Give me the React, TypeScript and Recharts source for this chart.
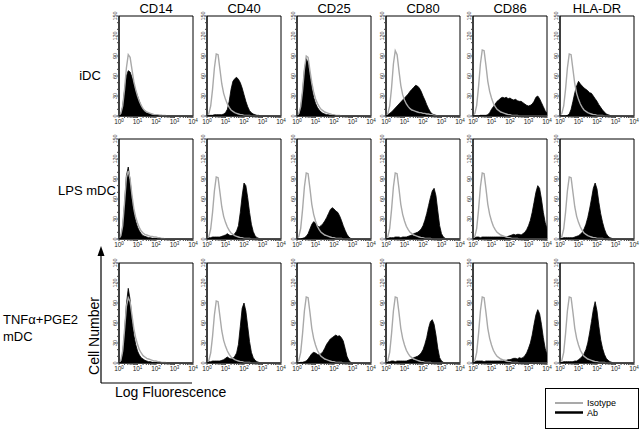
import React from 'react';
import { ComposedChart, Area, Line, XAxis, YAxis, ReferenceArea } from 'recharts';

// log10 fluorescence positions (10^0 .. 10^4)
const LOGS = [
  0, 0.1, 0.2, 0.3, 0.4, 0.5, 0.6, 0.7, 0.8, 0.9,
  1, 1.1, 1.2, 1.3, 1.4, 1.5, 1.6, 1.7, 1.8, 1.9,
  2, 2.1, 2.2, 2.3, 2.4, 2.5, 2.6, 2.7, 2.8, 2.9,
  3, 3.1, 3.2, 3.3, 3.4, 3.5, 3.6, 3.7, 3.8, 3.9,
  4,
];

const MARKERS = ['CD14', 'CD40', 'CD25', 'CD80', 'CD86', 'HLA-DR'];
const X_MAJOR = [0, 1, 2, 3, 4];
const Y_TICKS = [0, 10, 20, 30, 40, 50, 60, 70, 80, 90, 100, 110, 120, 130, 140, 150];

// Isotype (gray) histograms
const ISO_STD = [
  1, 4, 15, 40, 72, 93, 92, 70, 48, 34,
  25, 18, 13, 9, 7, 5, 4, 3, 2, 2,
  1, 1, 1, 1, 0, 0, 0, 0, 0, 0,
  0, 0, 0, 0, 0, 0, 0, 0, 0, 0,
  0,
];
const ISO_HIGH = [
  1, 4, 16, 44, 78, 99, 98, 76, 52, 37,
  27, 19, 14, 10, 8, 6, 5, 4, 3, 2,
  2, 1, 1, 1, 1, 0, 0, 0, 0, 0,
  0, 0, 0, 0, 0, 0, 0, 0, 0, 0,
  0,
];
const CD14_IDC_ISO = [
  1, 4, 15, 40, 72, 92, 88, 70, 52, 40,
  30, 22, 16, 11, 8, 6, 5, 4, 3, 2,
  2, 2, 1, 1, 1, 1, 0, 0, 0, 0,
  0, 0, 0, 0, 0, 0, 0, 0, 0, 0,
  0,
];
const CD25_IDC_ISO = [
  1, 4, 14, 38, 70, 90, 88, 68, 50, 36,
  26, 19, 14, 10, 8, 6, 5, 4, 3, 2,
  2, 1, 1, 1, 0, 0, 0, 0, 0, 0,
  0, 0, 0, 0, 0, 0, 0, 0, 0, 0,
  0,
];
const CD80_IDC_ISO = [
  1, 4, 15, 42, 78, 98, 92, 68, 46, 32,
  24, 18, 14, 11, 9, 8, 7, 6, 5, 5,
  4, 4, 3, 3, 2, 2, 1, 1, 0, 0,
  0, 0, 0, 0, 0, 0, 0, 0, 0, 0,
  0,
];
const CD14_LPS_ISO = [
  1, 5, 20, 55, 92, 102, 90, 66, 46, 33,
  24, 17, 12, 9, 7, 6, 5, 4, 4, 3,
  3, 2, 2, 1, 1, 0, 0, 0, 0, 0,
  0, 0, 0, 0, 0, 0, 0, 0, 0, 0,
  0,
];
const CD14_TNF_ISO = [
  1, 4, 18, 50, 85, 98, 92, 72, 52, 38,
  28, 20, 15, 11, 9, 7, 6, 5, 4, 3,
  3, 2, 2, 1, 1, 1, 0, 0, 0, 0,
  0, 0, 0, 0, 0, 0, 0, 0, 0, 0,
  0,
];

// Antibody (black) histograms — iDC
const CD14_IDC_AB = [
  0, 3, 14, 38, 60, 68, 66, 58, 48, 38,
  30, 22, 15, 10, 7, 5, 4, 3, 2, 2,
  1, 1, 1, 1, 0, 0, 0, 0, 0, 0,
  0, 0, 0, 0, 0, 0, 0, 0, 0, 0,
  0,
];
const CD40_IDC_AB = [
  1, 1, 1, 1, 2, 2, 2, 2, 2, 3,
  5, 10, 22, 40, 52, 56, 58, 55, 50, 42,
  32, 22, 14, 8, 5, 3, 2, 1, 1, 0,
  0, 0, 0, 0, 0, 0, 0, 0, 0, 0,
  0,
];
const CD25_IDC_AB = [
  0, 2, 12, 35, 68, 86, 80, 60, 42, 28,
  19, 13, 9, 6, 4, 3, 2, 2, 1, 1,
  1, 0, 0, 0, 0, 0, 0, 0, 0, 0,
  0, 0, 0, 0, 0, 0, 0, 0, 0, 0,
  0,
];
const CD80_IDC_AB = [
  0, 2, 4, 6, 9, 12, 15, 18, 21, 24,
  27, 30, 33, 37, 40, 43, 46, 45, 42, 37,
  30, 24, 17, 11, 6, 3, 2, 1, 0, 0,
  0, 0, 0, 0, 0, 0, 0, 0, 0, 0,
  0,
];
const CD86_IDC_AB = [
  0, 0, 0, 0, 1, 1, 1, 1, 2, 5,
  10, 14, 18, 22, 24, 27, 28, 27, 28, 26,
  27, 25, 24, 25, 23, 22, 22, 20, 18, 16,
  15, 16, 18, 22, 28, 30, 26, 20, 14, 8,
  4,
];
const HLA_IDC_AB = [
  0, 0, 0, 0, 1, 3, 10, 22, 35, 45,
  52, 48, 45, 42, 40, 38, 35, 34, 30, 26,
  22, 17, 13, 9, 6, 3, 2, 1, 0, 0,
  0, 0, 0, 0, 0, 0, 0, 0, 0, 0,
  0,
];

// LPS mDC
const CD14_LPS_AB = [
  0, 3, 18, 52, 95, 108, 88, 60, 40, 27,
  18, 12, 8, 5, 4, 3, 2, 2, 1, 1,
  1, 0, 0, 0, 0, 0, 0, 0, 0, 0,
  0, 0, 0, 0, 0, 0, 0, 0, 0, 0,
  0,
];
const CD40_LPS_AB = [
  1, 2, 2, 3, 3, 3, 3, 3, 4, 5,
  6, 8, 6, 5, 6, 8, 12, 20, 40, 65,
  84, 80, 62, 40, 22, 11, 5, 2, 1, 0,
  0, 0, 0, 0, 0, 0, 0, 0, 0, 0,
  0,
];
const CD25_LPS_AB = [
  0, 0, 0, 1, 2, 4, 8, 15, 22, 26,
  24, 20, 18, 20, 23, 27, 32, 38, 44, 47,
  45, 42, 40, 35, 28, 20, 13, 7, 3, 1,
  0, 0, 0, 0, 0, 0, 0, 0, 0, 0,
  0,
];
const CD80_LPS_AB = [
  0, 1, 2, 2, 2, 3, 3, 3, 2, 3,
  3, 3, 4, 5, 6, 8, 9, 10, 12, 15,
  20, 28, 38, 50, 62, 72, 76, 65, 42, 20,
  8, 3, 1, 0, 0, 0, 0, 0, 0, 0,
  0,
];
const CD86_LPS_AB = [
  0, 2, 3, 3, 2, 3, 3, 3, 3, 3,
  3, 3, 3, 3, 3, 3, 3, 3, 3, 4,
  5, 6, 7, 6, 7, 7, 6, 8, 10, 14,
  20, 28, 40, 55, 70, 80, 76, 60, 40, 25,
  15,
];
const HLA_LPS_AB = [
  0, 1, 2, 2, 2, 2, 2, 2, 3, 4,
  5, 7, 10, 15, 22, 32, 45, 60, 76, 84,
  75, 55, 38, 25, 15, 8, 4, 2, 1, 0,
  0, 0, 0, 0, 0, 0, 0, 0, 0, 0,
  0,
];

// TNFa+PGE2 mDC
const CD14_TNF_AB = [
  0, 2, 14, 45, 88, 112, 95, 65, 42, 28,
  18, 12, 8, 6, 4, 3, 2, 2, 1, 1,
  1, 0, 0, 0, 0, 0, 0, 0, 0, 0,
  0, 0, 0, 0, 0, 0, 0, 0, 0, 0,
  0,
];
const CD40_TNF_AB = [
  1, 2, 2, 3, 3, 3, 3, 3, 4, 5,
  7, 9, 7, 6, 7, 10, 15, 28, 55, 82,
  90, 78, 55, 32, 16, 8, 4, 2, 1, 0,
  0, 0, 0, 0, 0, 0, 0, 0, 0, 0,
  0,
];
const CD25_TNF_AB = [
  0, 0, 1, 1, 2, 3, 6, 10, 14, 16,
  15, 13, 12, 14, 17, 22, 28, 32, 36, 38,
  40, 42, 40, 41, 38, 33, 22, 10, 4, 1,
  0, 0, 0, 0, 0, 0, 0, 0, 0, 0,
  0,
];
const CD80_TNF_AB = [
  0, 2, 2, 3, 3, 2, 3, 3, 3, 3,
  3, 3, 4, 5, 6, 8, 9, 10, 12, 15,
  20, 28, 38, 52, 62, 65, 58, 42, 22, 8,
  3, 1, 0, 0, 0, 0, 0, 0, 0, 0,
  0,
];
const CD86_TNF_AB = [
  0, 2, 3, 3, 3, 3, 2, 3, 3, 3,
  3, 3, 3, 3, 3, 3, 3, 4, 4, 5,
  5, 6, 7, 7, 6, 8, 7, 8, 11, 15,
  22, 30, 42, 58, 72, 80, 74, 58, 38, 22,
  12,
];
const HLA_TNF_AB = [
  0, 1, 2, 2, 2, 2, 2, 2, 3, 3,
  5, 7, 10, 14, 20, 30, 45, 62, 80, 92,
  78, 55, 35, 22, 13, 7, 4, 2, 1, 0,
  0, 0, 0, 0, 0, 0, 0, 0, 0, 0,
  0,
];

const ROWS = [
  {
    label: ['iDC'],
    panels: [
      { ab: CD14_IDC_AB, iso: CD14_IDC_ISO },
      { ab: CD40_IDC_AB, iso: ISO_STD },
      { ab: CD25_IDC_AB, iso: CD25_IDC_ISO },
      { ab: CD80_IDC_AB, iso: CD80_IDC_ISO },
      { ab: CD86_IDC_AB, iso: ISO_HIGH },
      { ab: HLA_IDC_AB, iso: ISO_STD },
    ],
  },
  {
    label: ['LPS mDC'],
    panels: [
      { ab: CD14_LPS_AB, iso: CD14_LPS_ISO },
      { ab: CD40_LPS_AB, iso: ISO_STD },
      { ab: CD25_LPS_AB, iso: ISO_HIGH },
      { ab: CD80_LPS_AB, iso: ISO_HIGH },
      { ab: CD86_LPS_AB, iso: ISO_HIGH },
      { ab: HLA_LPS_AB, iso: ISO_STD },
    ],
  },
  {
    label: ['TNFα+PGE2', 'mDC'],
    panels: [
      { ab: CD14_TNF_AB, iso: CD14_TNF_ISO },
      { ab: CD40_TNF_AB, iso: ISO_STD },
      { ab: CD25_TNF_AB, iso: ISO_HIGH },
      { ab: CD80_TNF_AB, iso: ISO_HIGH },
      { ab: CD86_TNF_AB, iso: ISO_HIGH },
      { ab: HLA_TNF_AB, iso: ISO_HIGH },
    ],
  },
];

// ---- layout ----
const FONT = '"Liberation Sans", Arial, Helvetica, sans-serif';
const COL_LEFT = [119, 207, 297, 386, 473, 560];
const ROW_TOP = [16, 139, 263];
const BOX_W = 74;
const BOX_H = 100;
const Y_W = 14;
const X_H = 12;
const M_TOP = 5;
const M_RIGHT = 7;

const X_TICKS: number[] = (() => {
  const t: number[] = [];
  for (let d = 0; d < 4; d++) {
    t.push(d);
    for (let m = 2; m <= 9; m++) t.push(d + Math.log10(m));
  }
  t.push(4);
  return t;
})();

const XTick = (props: any) => {
  const { x, y, payload } = props;
  const v = payload.value;
  if (!X_MAJOR.includes(v)) return <g />;
  return (
    <text x={x} y={y + 5} textAnchor="middle" fontSize={6.5} fill="#222" fontFamily={FONT}>
      <tspan fill="#222">10</tspan>
      <tspan dy={-2.5} fontSize={4.5} fill="#222">{v}</tspan>
    </text>
  );
};

const YTick = (props: any) => {
  const { x, y, payload } = props;
  const v = payload.value;
  if (v % 30 !== 0) return <g />;
  const tx = x + 1;
  return (
    <text
      x={tx}
      y={y}
      transform={`rotate(-90 ${tx} ${y})`}
      textAnchor="middle"
      fontSize={5.5}
      fill="#333"
      fontFamily={FONT}
    >
      {v}
    </text>
  );
};

function Panel({ ab, iso, left, top }: { ab: number[]; iso: number[]; left: number; top: number }) {
  const data = LOGS.map((x, i) => ({ x, ab: ab[i], iso: iso[i] }));
  return (
    <div style={{ position: 'absolute', left: left - Y_W, top: top - M_TOP }}>
      <ComposedChart
        width={Y_W + BOX_W + M_RIGHT}
        height={M_TOP + BOX_H + X_H}
        data={data}
        margin={{ top: M_TOP, right: M_RIGHT, bottom: 0, left: 0 }}
      >
        <XAxis
          dataKey="x"
          type="number"
          domain={[0, 4]}
          ticks={X_TICKS}
          interval={0}
          tick={XTick}
          tickSize={2}
          tickMargin={1}
          height={X_H}
          axisLine={{ stroke: '#000' }}
          tickLine={{ stroke: '#444' }}
          allowDataOverflow
        />
        <YAxis
          type="number"
          domain={[0, 150]}
          ticks={Y_TICKS}
          interval={0}
          tick={YTick}
          tickSize={2}
          tickMargin={1}
          width={Y_W}
          axisLine={{ stroke: '#000' }}
          tickLine={{ stroke: '#444' }}
          allowDataOverflow
        />
        <Area
          dataKey="ab"
          type="linear"
          fill="#000"
          fillOpacity={1}
          stroke="#000"
          strokeWidth={0.8}
          dot={false}
          activeDot={false}
          isAnimationActive={false}
        />
        <Line
          dataKey="iso"
          type="linear"
          stroke="#a9a9a9"
          strokeWidth={1.4}
          dot={false}
          activeDot={false}
          isAnimationActive={false}
        />
        <ReferenceArea x1={0} x2={4} y1={0} y2={150} fill="none" stroke="#000" strokeWidth={1} />
      </ComposedChart>
    </div>
  );
}

export default function App() {
  return (
    <div
      style={{
        position: 'absolute',
        left: 0,
        top: 0,
        width: 640,
        height: 431,
        overflow: 'hidden',
        background: '#fff',
        fontFamily: FONT,
      }}
    >
      {ROWS.map((row, r) =>
        row.panels.map((p, c) => (
          <Panel key={`${r}-${c}`} ab={p.ab} iso={p.iso} left={COL_LEFT[c]} top={ROW_TOP[r]} />
        ))
      )}
      <svg
        width={640}
        height={431}
        style={{ position: 'absolute', left: 0, top: 0, pointerEvents: 'none' }}
        fontFamily={FONT}
      >
        {MARKERS.map((m, c) => (
          <text key={m} x={COL_LEFT[c] + BOX_W / 2} y={13} textAnchor="middle" fontSize={13} fill="#000">
            {m}
          </text>
        ))}
        <text x={90} y={80} textAnchor="middle" fontSize={13} fill="#000">{ROWS[0].label[0]}</text>
        <text x={87} y={195} textAnchor="middle" fontSize={13} fill="#000">{ROWS[1].label[0]}</text>
        <text x={3} y={324} fontSize={13} fill="#000">{ROWS[2].label[0]}</text>
        <text x={3} y={341} fontSize={13} fill="#000">{ROWS[2].label[1]}</text>

        {/* axis arrow */}
        <line x1={101} y1={254} x2={101} y2={383} stroke="#000" strokeWidth={1.2} />
        <line x1={101} y1={383} x2={192} y2={383} stroke="#000" strokeWidth={1.2} />
        <polygon points="101,246 97.5,256 104.5,256" fill="#000" />
        <text
          x={99}
          y={336}
          transform="rotate(-90 99 336)"
          textAnchor="middle"
          fontSize={14}
          fill="#000"
        >
          Cell Number
        </text>
        <text x={115} y={397} fontSize={14} fill="#000">Log Fluorescence</text>

        {/* legend */}
        <rect x={545.5} y={388.5} width={93} height={40} fill="none" stroke="#000" strokeWidth={1} />
        <line x1={555} y1={403} x2={583} y2={403} stroke="#a9a9a9" strokeWidth={2} />
        <text x={587} y={406} fontSize={9} fill="#000">Isotype</text>
        <line x1={555} y1={412.5} x2={583} y2={412.5} stroke="#000" strokeWidth={2.5} />
        <text x={587} y={416} fontSize={9} fill="#000">Ab</text>
      </svg>
    </div>
  );
}
